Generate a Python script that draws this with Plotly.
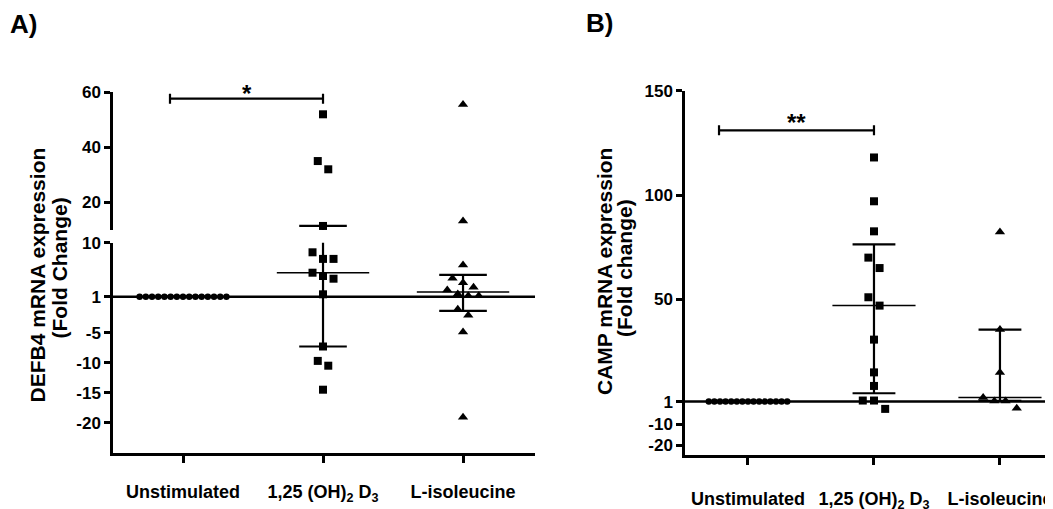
import numpy as np
import plotly.graph_objects as go

# ---------------- data ----------------
groups = ["Unstimulated", "1,25 (OH)<sub>2</sub> D<sub>3</sub>", "L-isoleucine"]

# Panel A: DEFB4 mRNA expression (fold change)
defb4_unstim = [1, 1, 1, 1, 1, 1, 1, 1, 1, 1, 1, 1, 1, 1, 1]
defb4_d3 = [52, 35, 32, 11.4, 8.4, 7.3, 7.3, 5.0, 4.45, 4.0, 1.4, -7.3, -9.7, -10.5, -14.5]
defb4_ile = [55.6, 13.2, 6.3, 4.07, 3.33, 2.57, 2.1, 1.45, 1.17, 1.17, -1.1, -2.1, -4.9, -19.1]

# Panel B: CAMP mRNA expression (fold change)
camp_unstim = [1, 1, 1, 1, 1, 1, 1, 1, 1, 1, 1, 1, 1, 1, 1]
camp_d3 = [118, 97, 82.6, 70, 65, 51, 47, 30.7, 15, 8.5, 1.5, 1.5, -2.5]
camp_ile = [82.3, 35.5, 15, 3.0, 1.3, 1.3, -2.2]

defb4_ticks_upper = [20, 40, 60]
defb4_ticks_lower = [-20, -15, -10, -5, 1, 10]
camp_ticks = [-20, -10, 1, 50, 100, 150]

defb4_title = ["DEFB4 mRNA expression", "(Fold Change)"]
camp_title = ["CAMP mRNA expression", "(Fold change)"]
panel_labels = ["A)", "B)"]
defb4_sig = "*"
camp_sig = "**"
defb4_sig_level = 57.7
camp_sig_level = 131

# ---------------- geometry / style ----------------
W, H = 1053, 509
OFF = 8          # the page body adds an 8 px margin; positions below are window pixels
FONT = "Liberation Sans, Arial, Helvetica, sans-serif"
BREAK = 10

A_X, A_XR = (113, 535), [-0.5, 2.514]
A_UP, A_UPR = (92.3, 230.0), [9.93, 60]
A_LO, A_LOR = (242.7, 453.0), [-25.05, 10]
B_X, B_XR = (685, 1053), [-0.5, 2.421]
B_Y, B_YR = (90.7, 455.0), [-24.6, 150]


def px(p):
    return (p - OFF) / W


def py(p):
    return (H - (p - OFF)) / H


def xdom(p):
    return [px(p[0]), px(p[1])]


def ydom(p):
    return [py(p[1]), py(p[0])]


def to_px(v, dom, rng):
    top, bot = dom
    return bot - (v - rng[0]) / (rng[1] - rng[0]) * (bot - top)


def swarm(ypx, step, thr):
    ypx = np.asarray(ypx, float)
    order = np.argsort(ypx, kind="stable")
    offs = np.zeros(len(ypx))
    rows, row = [], []
    for i in order:
        if row and ypx[i] - ypx[row[0]] > thr:
            rows.append(row)
            row = []
        row.append(i)
    if row:
        rows.append(row)
    for r in rows:
        n = len(r)
        for k, i in enumerate(r):
            offs[i] = (k - (n - 1) / 2) * step
    return offs


def stats(vals):
    v = np.asarray(vals, float)
    q1, med, q3 = np.percentile(v, [25, 50, 75], method="weibull")
    return q1, med, q3


fig = go.Figure()
BLACK = "black"
symbols = ["circle", "square", "triangle-up"]
msizes = [6.5, 8, 9]


def add_errbars(xi, vals, xa, yas):
    q1, med, q3 = stats(vals)
    xs, ys = [], []
    segs_thin = ([xi - 0.33, xi + 0.33], [med, med])
    segs = [([xi, xi], [q1, q3]),
            ([xi - 0.17, xi + 0.17], [q1, q1]),
            ([xi - 0.17, xi + 0.17], [q3, q3])]
    for s in segs:
        xs += s[0] + [None]
        ys += s[1] + [None]
    for ya in yas:
        fig.add_trace(go.Scatter(x=xs, y=ys, mode="lines", xaxis=xa, yaxis=ya,
                                 line=dict(color=BLACK, width=2.2), hoverinfo="skip"))
        fig.add_trace(go.Scatter(x=segs_thin[0], y=segs_thin[1], mode="lines", xaxis=xa, yaxis=ya,
                                 line=dict(color=BLACK, width=1.5), hoverinfo="skip"))


# ---------- Panel A (broken y axis) ----------
a_xppu = (A_X[1] - A_X[0]) / (A_XR[1] - A_XR[0])
for gi, vals in enumerate([defb4_unstim, defb4_d3, defb4_ile]):
    add_errbars(gi, vals, "x", ["y", "y2"])
for gi, (vals, sym, ms) in enumerate(zip([defb4_unstim, defb4_d3, defb4_ile], symbols, msizes)):
    v = np.asarray(vals, float)
    ypx = [to_px(t, A_UP, A_UPR) if t > BREAK else to_px(t, A_LO, A_LOR) for t in v]
    step = 6.2 if sym == "circle" else 10.5
    offs = swarm(ypx, step, 9.5)
    xs = gi + offs / a_xppu
    up = v > BREAK
    for mask, ya in [(~up, "y"), (up, "y2")]:
        if mask.any():
            fig.add_trace(go.Scatter(x=xs[mask], y=v[mask], mode="markers", xaxis="x", yaxis=ya,
                                     cliponaxis=False,
                                     marker=dict(symbol=sym, size=ms, color=BLACK, line=dict(width=0))))

# ---------- Panel B ----------
b_xppu = (B_X[1] - B_X[0]) / (B_XR[1] - B_XR[0])
for gi, vals in enumerate([camp_unstim, camp_d3, camp_ile]):
    add_errbars(gi, vals, "x2", ["y3"])
for gi, (vals, sym, ms) in enumerate(zip([camp_unstim, camp_d3, camp_ile], symbols, msizes)):
    v = np.asarray(vals, float)
    ypx = [to_px(t, B_Y, B_YR) for t in v]
    step = 5.6 if sym == "circle" else 11.2
    offs = swarm(ypx, step, 11)
    xs = gi + offs / b_xppu
    fig.add_trace(go.Scatter(x=xs, y=v, mode="markers", xaxis="x2", yaxis="y3", cliponaxis=False,
                             marker=dict(symbol=sym, size=ms, color=BLACK, line=dict(width=0))))

tickfont = dict(family=FONT, size=17, color=BLACK, weight="bold")
xtickfont = dict(family=FONT, size=18, color=BLACK, weight="bold")
common = dict(showgrid=False, zeroline=False, showline=True, linecolor=BLACK, linewidth=2.5,
              ticks="outside", tickcolor=BLACK, tickwidth=2.5, fixedrange=True)

fig.update_layout(
    width=W, height=H, margin=dict(l=0, r=0, t=0, b=0, autoexpand=False),
    paper_bgcolor="white", plot_bgcolor="white", showlegend=False,
    xaxis=dict(common, domain=xdom(A_X), range=A_XR, anchor="y", tickvals=[0, 1, 2],
               ticktext=groups, ticklen=7, tickfont=xtickfont, ticklabelstandoff=14),
    yaxis=dict(common, domain=ydom(A_LO), range=A_LOR, anchor="x", tickvals=defb4_ticks_lower,
               ticktext=[str(t) for t in defb4_ticks_lower], ticklen=6, tickfont=tickfont),
    yaxis2=dict(common, domain=ydom(A_UP), range=A_UPR, anchor="x", tickvals=defb4_ticks_upper,
                ticktext=[str(t) for t in defb4_ticks_upper], ticklen=6, tickfont=tickfont),
    xaxis2=dict(common, domain=xdom(B_X), range=B_XR, anchor="y3", tickvals=[0, 1, 2],
                ticktext=groups, ticklen=7, tickfont=xtickfont, ticklabelstandoff=19),
    yaxis3=dict(common, domain=ydom(B_Y), range=B_YR, anchor="x2", tickvals=camp_ticks,
                ticktext=[str(t) for t in camp_ticks], ticklen=6, tickfont=tickfont),
)

shapes = []
shapes.append(dict(type="line", xref="x domain", yref="y", x0=0, x1=1, y0=1, y1=1,
                   line=dict(color=BLACK, width=2.5)))
shapes.append(dict(type="line", xref="x2 domain", yref="y3", x0=0, x1=1, y0=1, y1=1,
                   line=dict(color=BLACK, width=2.5)))


def bracket(xref, yref, xl, xr, yv):
    out = [dict(type="line", xref=xref, yref=yref, x0=xl, x1=xr, y0=yv, y1=yv,
                line=dict(color=BLACK, width=2.2))]
    for xe in (xl, xr):
        out.append(dict(type="line", xref=xref, yref=yref, x0=xe, x1=xe, ysizemode="pixel",
                        yanchor=yv, y0=-5, y1=5, line=dict(color=BLACK, width=2.2)))
    return out


shapes += bracket("x", "y2", -0.093, 1.0, defb4_sig_level)
shapes += bracket("x2", "y3", -0.23, 1.0, camp_sig_level)
fig.update_layout(shapes=shapes)

ann = []
ann.append(dict(x=(-0.093 + 1.0) / 2, y=defb4_sig_level, xref="x", yref="y2", text=defb4_sig,
                showarrow=False, xanchor="center", yanchor="middle", yshift=5,
                font=dict(family=FONT, size=24, color=BLACK, weight="bold")))
ann.append(dict(x=(-0.23 + 1.0) / 2, y=camp_sig_level, xref="x2", yref="y3", text=camp_sig,
                showarrow=False, xanchor="center", yanchor="middle", yshift=8,
                font=dict(family=FONT, size=24, color=BLACK, weight="bold")))
ann.append(dict(x=px(8), y=py(24), xref="paper", yref="paper", text=panel_labels[0],
                showarrow=False, xanchor="left", yanchor="middle",
                font=dict(family=FONT, size=26, color=BLACK, weight="bold")))
ann.append(dict(x=px(584), y=py(23), xref="paper", yref="paper", text=panel_labels[1],
                showarrow=False, xanchor="left", yanchor="middle",
                font=dict(family=FONT, size=26, color=BLACK, weight="bold")))
for (txt, cx, cy) in [(defb4_title[0], 36.5, 275), (defb4_title[1], 58.5, 268),
                      (camp_title[0], 604.5, 271.5), (camp_title[1], 624.5, 268.5)]:
    ann.append(dict(x=px(cx), y=py(cy), xref="paper", yref="paper", text=txt,
                    showarrow=False, textangle=-90, xanchor="center", yanchor="middle",
                    font=dict(family=FONT, size=21, color=BLACK, weight="bold")))
fig.update_layout(annotations=ann)

fig.write_html("out.html")
